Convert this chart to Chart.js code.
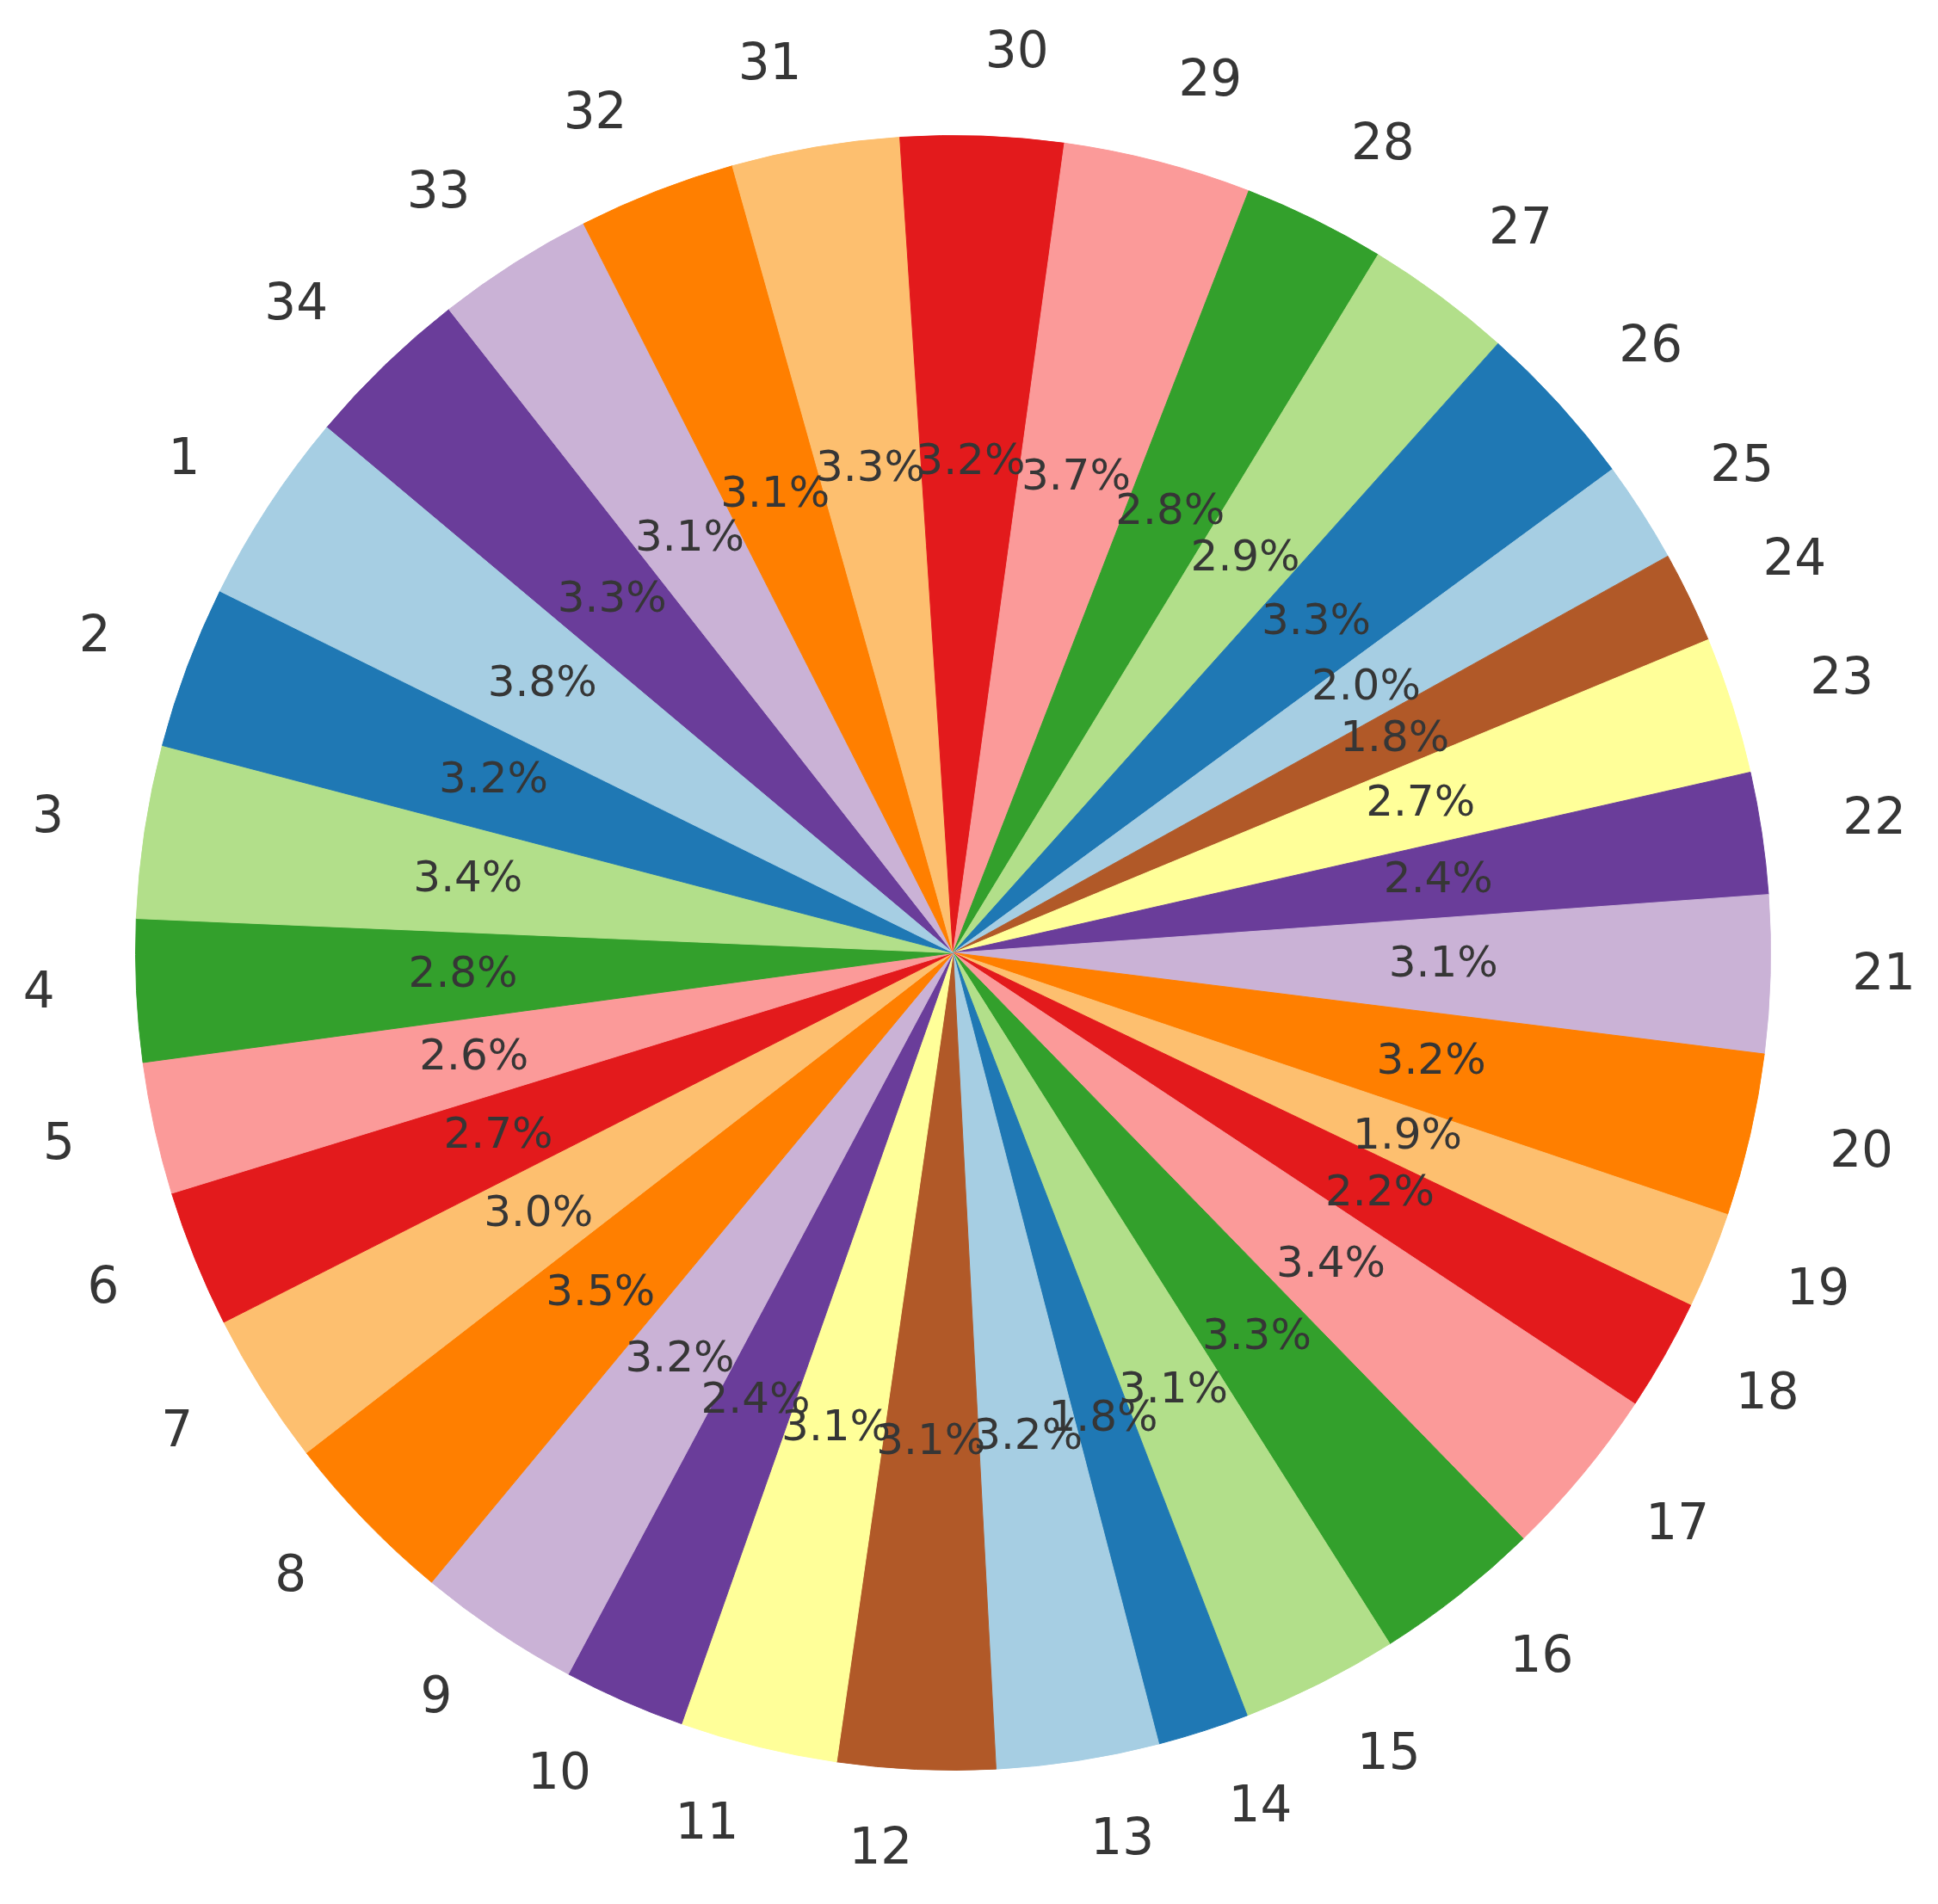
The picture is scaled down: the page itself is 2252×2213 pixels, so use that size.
<!DOCTYPE html>
<html>
<head>
<meta charset="utf-8">
<script src="https://cdn.jsdelivr.net/npm/chart.js@4.4.0/dist/chart.umd.min.js"></script>
<style>
  html, body { margin: 0; padding: 0; background: #fff; }
  canvas { display: block; }
</style>
</head>
<body>
<canvas id="pie" width="2252" height="2213"></canvas>
<script>
// slice labels, in the order the pie goes (counter clockwise)
const sliceLabels = ['1','2','3','4','5','6','7','8','9','10','11','12','13','14','15','16','17',
  '18','19','20','21','22','23','24','25','26','27','28','29','30','31','32','33','34'];

// values (percent shares)
const sliceValues = [3.8, 3.2, 3.4, 2.8, 2.6, 2.7, 3.0, 3.5, 3.2, 2.4, 3.1, 3.1, 3.2, 1.8, 3.1, 3.3, 3.4,
  2.2, 1.9, 3.2, 3.1, 2.4, 2.7, 1.8, 2.0, 3.3, 2.9, 2.8, 3.7, 3.2, 3.3, 3.1, 3.1, 3.3];

// matplotlib "Paired"
const paired = ['#a6cee3', '#1f78b4', '#b2df8a', '#33a02c', '#fb9a99', '#e31a1c',
  '#fdbf6f', '#ff7f00', '#cab2d6', '#6a3d9a', '#ffff99', '#b15928'];

const sliceColors = sliceLabels.map((_, i) => paired[i % paired.length]);

// chart.js draws clockwise, so feed it reversed
const labelsRev = [...sliceLabels].reverse();
const valuesRev = [...sliceValues].reverse();
const colorsRev = [...sliceColors].reverse();

const total = sliceValues.reduce((a, b) => a + b, 0);

const textColor = '#363636';

// labels outside (1.1 r) and percents inside (0.6 r), like matplotlib's pie
const pieText = {
  id: 'pieText',
  afterDatasetsDraw(chart) {
    const { ctx } = chart;
    const meta = chart.getDatasetMeta(0);
    ctx.save();
    ctx.fillStyle = textColor;
    ctx.textBaseline = 'middle';

    meta.data.forEach((arc, i) => {
      const { x, y, startAngle, endAngle, outerRadius } = arc.getProps(['x', 'y', 'startAngle', 'endAngle', 'outerRadius'], true);
      const mid = (startAngle + endAngle) / 2;
      const c = Math.cos(mid);
      const s = Math.sin(mid);

      // label
      ctx.font = '58px "DejaVu Sans"';
      ctx.textAlign = Math.abs(c) < 1e-6 ? 'center' : (c > 0 ? 'left' : 'right');
      ctx.fillText(labelsRev[i], x + c * outerRadius * 1.1, y + s * outerRadius * 1.1);

      // percent
      ctx.font = '50px "DejaVu Sans"';
      ctx.textAlign = 'center';
      const pct = (valuesRev[i] / total * 100).toFixed(1) + '%';
      ctx.fillText(pct, x + c * outerRadius * 0.6, y + s * outerRadius * 0.6);
    });
    ctx.restore();
  }
};

const config = {
  type: 'pie',
  data: {
    labels: labelsRev,
    datasets: [{
      data: valuesRev,
      backgroundColor: colorsRev,
      borderColor: colorsRev,
      borderWidth: 1
    }]
  },
  options: {
    responsive: false,
    animation: false,
    rotation: -50,
    layout: {
      padding: { left: 157, right: 194, top: 156, bottom: 154 }
    },
    plugins: {
      legend: { display: false },
      tooltip: { enabled: false }
    }
  },
  plugins: [pieText]
};

new Chart(document.querySelector('#pie'), config);
</script>
</body>
</html>
